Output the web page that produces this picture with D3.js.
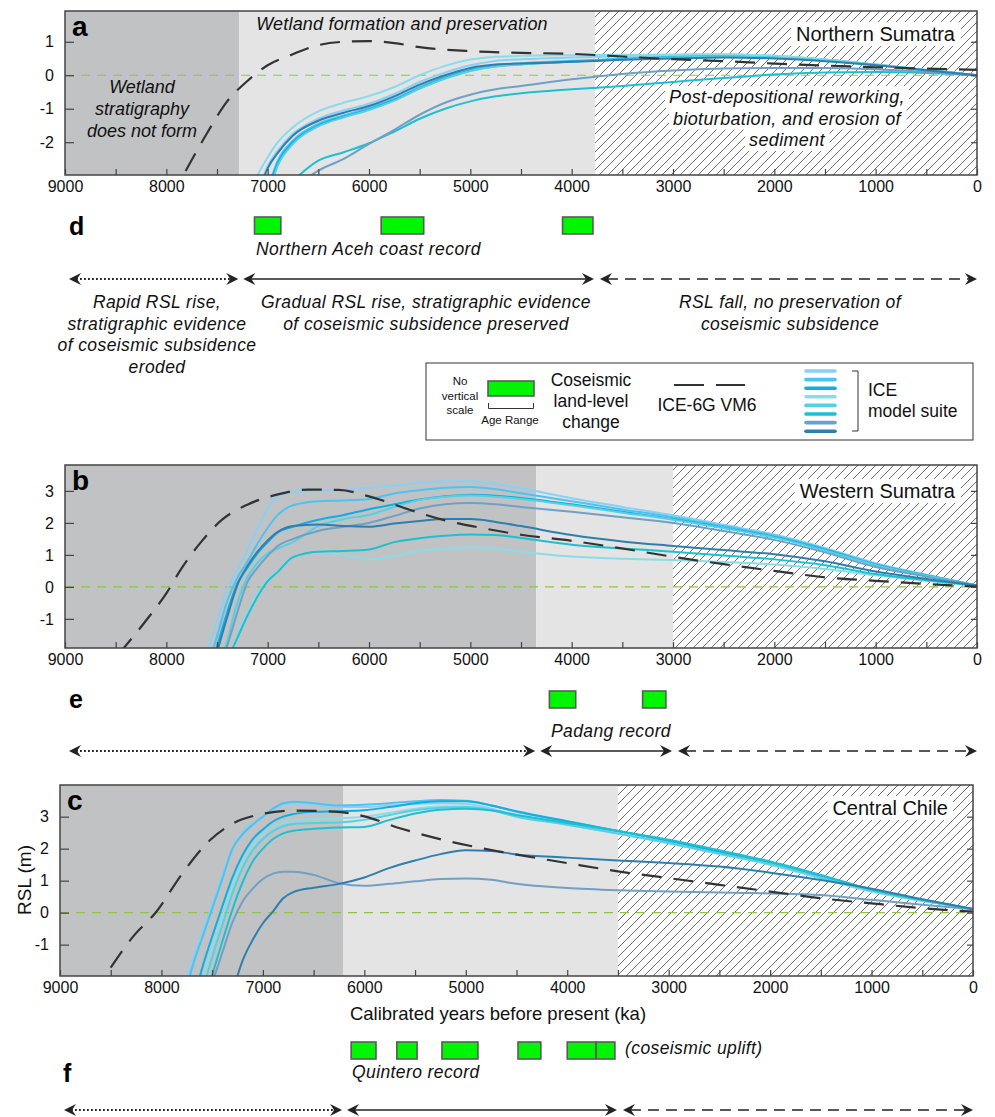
<!DOCTYPE html>
<html><head><meta charset="utf-8">
<script src="https://cdn.jsdelivr.net/npm/d3@7/dist/d3.min.js"></script>
<style>
body{margin:0;background:#fff;}
svg{display:block;font-family:"Liberation Sans",Arial,Helvetica,sans-serif;}
</style></head><body>
<svg id="chart" width="995" height="1117"></svg>
<script>
// ---------------- DATA ----------------
const xTickValues = d3.range(0, 9001, 500);
const xLabelValues = d3.range(0, 9001, 1000);
const yTicksA = [-2, -1, 0, 1];
const yTicksBC = [-1, 0, 1, 2, 3];
const modelNames = ["ICE 1","ICE 2","ICE 3","ICE 4","ICE 5","ICE 6","ICE 7","ICE 8"];
const modelColors = ["#88d0f5","#4cc3f0","#10aee3","#8adce9","#55d0e3","#1cc0d0","#6fa0c5","#2e7fae"];

// zone boundaries (years BP): [end of dark zone, end of light zone]
const zonesA = [7280, 3770];
const zonesB = [4350, 3000];
const zonesC = [6210, 3500];

// Panel a — Northern Sumatra
const yearsA = [7100,7000,6900,6750,6500,6250,6000,5750,5500,5250,5000,4750,4500,4000,3500,3000,2500,2000,1500,1000,500,0];
const a1 = [-3.5,-2.72,-2.25,-1.75,-1.3,-1.05,-0.85,-0.56,-0.2,0.08,0.3,0.43,0.48,0.53,0.57,0.6,0.62,0.58,0.47,0.32,0.16,0];
const a2 = [null,-3.4,-2.55,-1.95,-1.45,-1.2,-0.98,-0.7,-0.35,-0.05,0.18,0.3,0.36,0.43,0.5,0.55,0.58,0.55,0.46,0.32,0.16,0];
const a3 = [null,-3.5,-2.62,-2.0,-1.5,-1.24,-1.02,-0.74,-0.39,-0.09,0.14,0.27,0.33,0.41,0.48,0.54,0.57,0.54,0.45,0.31,0.15,0];
const a4 = [-2.98,-2.45,-2.0,-1.55,-1.08,-0.82,-0.62,-0.35,0.0,0.28,0.47,0.55,0.58,0.6,0.61,0.62,0.63,0.58,0.47,0.32,0.16,0];
const a5 = [null,-3.6,-2.7,-2.05,-1.53,-1.26,-1.04,-0.76,-0.4,-0.1,0.13,0.26,0.32,0.4,0.47,0.53,0.56,0.53,0.44,0.31,0.15,0];
const a6 = [null,null,null,-3.15,-2.55,-2.3,-2.03,-1.68,-1.3,-1.0,-0.78,-0.63,-0.54,-0.42,-0.32,-0.2,-0.08,0.02,0.08,0.1,0.07,0];
const a7 = [null,null,null,-3.4,-2.85,-2.5,-2.05,-1.63,-1.18,-0.82,-0.58,-0.42,-0.32,-0.12,0.04,0.14,0.2,0.22,0.22,0.18,0.1,0];
const a8 = [-3.6,-2.78,-2.32,-1.8,-1.36,-1.12,-0.92,-0.63,-0.28,0.0,0.22,0.32,0.35,0.4,0.46,0.5,0.53,0.5,0.42,0.3,0.15,0];
const iceYearsA = [7810,7600,7400,7200,7000,6800,6500,6250,6000,5750,5500,5000,4500,4000,3500,3000,2500,2000,1500,1000,500,0];
const iceA = [-2.86,-1.74,-0.78,-0.17,0.3,0.57,0.9,1.0,1.02,0.96,0.84,0.72,0.67,0.64,0.56,0.48,0.42,0.35,0.29,0.24,0.2,0.16];

// Panel b — Western Sumatra
const yearsB = [7700,7600,7500,7400,7300,7200,7100,7000,6900,6750,6500,6250,6000,5750,5500,5250,5000,4750,4500,4000,3500,3000,2500,2000,1500,1000,500,0];
const b1 = [-3.2,-2.05,-1.1,-0.07,0.55,1.15,1.85,2.45,2.82,2.97,3.02,3.03,3.1,3.17,3.25,3.3,3.3,3.22,3.08,2.77,2.5,2.24,1.94,1.64,1.22,0.74,0.38,0.04];
const b2 = [-3.6,-2.6,-1.55,-0.45,0.28,0.79,1.35,1.85,2.25,2.55,2.68,2.7,2.75,2.92,3.02,3.1,3.12,3.05,2.93,2.68,2.42,2.18,1.9,1.6,1.19,0.71,0.37,0.04];
const b3 = [null,-3.0,-1.87,-0.8,0.1,0.6,1.05,1.4,1.7,1.88,2.1,2.25,2.43,2.58,2.73,2.83,2.88,2.85,2.78,2.58,2.35,2.12,1.85,1.56,1.16,0.69,0.36,0.04];
const b4 = [null,null,null,-2.4,-1.5,-0.8,-0.2,0.25,0.5,0.95,1.08,1.0,0.86,0.97,1.12,1.2,1.23,1.2,1.1,0.95,0.88,0.84,0.78,0.7,0.56,0.36,0.19,0.04];
const b5 = [null,null,-2.7,-1.7,-0.5,0.3,0.75,1.05,1.2,1.4,1.9,2.12,2.25,2.5,2.72,2.82,2.86,2.82,2.75,2.55,2.32,2.1,1.83,1.54,1.14,0.68,0.35,0.04];
const b6 = [null,null,null,-2.3,-1.6,-0.9,-0.3,0.18,0.47,0.93,1.1,1.12,1.17,1.4,1.52,1.6,1.64,1.62,1.53,1.32,1.2,1.1,0.98,0.86,0.68,0.4,0.21,0.04];
const b7 = [null,null,-2.75,-1.85,-0.8,0.15,0.6,0.97,1.28,1.5,1.75,1.88,2.0,2.22,2.45,2.58,2.62,2.58,2.5,2.35,2.18,2.0,1.75,1.47,1.08,0.62,0.32,0.04];
const b8 = [null,-3.2,-2.05,-0.95,0.05,0.65,1.1,1.45,1.72,1.9,1.95,1.9,1.88,1.98,2.06,2.12,2.12,2.03,1.9,1.62,1.42,1.28,1.15,1.02,0.8,0.48,0.25,0.04];
const iceYearsB = [8470,8200,8000,7850,7650,7450,7200,6900,6600,6300,6000,5600,5250,4950,4500,4000,3500,3000,2500,2000,1500,1000,500,0];
const iceB = [-2.1,-1.05,-0.2,0.58,1.43,2.1,2.57,2.89,3.04,3.03,2.83,2.41,2.08,1.88,1.63,1.44,1.2,0.94,0.71,0.5,0.3,0.19,0.09,0.01];

// Panel c — Central Chile
const yearsC = [7800,7700,7600,7500,7400,7300,7200,7100,7000,6900,6800,6700,6500,6250,6000,5750,5500,5250,5000,4750,4500,4000,3500,3000,2500,2000,1500,1000,500,0];
const c1 = [-2.6,-1.55,-0.65,0.25,1.15,2.0,2.5,2.8,3.02,3.22,3.37,3.42,3.38,3.3,3.3,3.35,3.4,3.42,3.4,3.25,3.05,2.78,2.48,2.18,1.84,1.5,1.08,0.66,0.37,0.11];
const c2 = [-3.0,-1.75,-0.8,0.12,1.05,2.0,2.45,2.75,3.0,3.25,3.42,3.47,3.42,3.35,3.37,3.42,3.48,3.52,3.5,3.35,3.15,2.85,2.55,2.25,1.9,1.55,1.12,0.68,0.38,0.11];
const c3 = [null,-3.0,-1.75,-0.75,0.2,1.1,1.8,2.3,2.6,2.85,3.0,3.08,3.15,3.17,3.2,3.3,3.42,3.48,3.48,3.35,3.17,2.86,2.55,2.25,1.9,1.55,1.12,0.68,0.38,0.11];
const c4 = [null,-3.2,-2.1,-1.05,-0.1,0.85,1.6,2.1,2.45,2.68,2.82,2.88,2.92,2.95,3.0,3.12,3.25,3.32,3.32,3.2,3.02,2.75,2.47,2.17,1.83,1.5,1.08,0.66,0.37,0.11];
const c5 = [null,null,-2.5,-1.4,-0.4,0.6,1.4,1.95,2.3,2.55,2.7,2.77,2.8,2.82,2.9,3.05,3.2,3.28,3.3,3.2,3.0,2.75,2.47,2.18,1.85,1.52,1.1,0.68,0.38,0.11];
const c6 = [null,null,-3.0,-1.95,-0.9,0.1,0.95,1.6,2.0,2.3,2.48,2.56,2.62,2.66,2.68,2.9,3.1,3.22,3.25,3.2,3.05,2.8,2.55,2.28,1.95,1.6,1.18,0.72,0.4,0.11];
const c7 = [null,null,null,-2.2,-1.25,-0.3,0.35,0.75,1.05,1.22,1.28,1.28,1.18,0.92,0.84,0.9,0.98,1.05,1.07,1.03,0.9,0.77,0.7,0.66,0.63,0.6,0.55,0.4,0.25,0.11];
const c8 = [null,null,null,null,null,-2.5,-1.5,-0.85,-0.33,0.04,0.45,0.64,0.78,0.9,1.1,1.4,1.63,1.83,1.95,1.93,1.82,1.72,1.63,1.55,1.44,1.25,1.02,0.75,0.42,0.11];
const iceYearsC = [8500,8280,8050,7800,7520,7300,7030,6700,6300,6000,5650,5150,4650,4000,3500,3000,2500,2000,1500,1000,500,0];
const iceC = [-1.72,-0.75,0.03,1.2,2.27,2.78,3.07,3.19,3.16,3.01,2.64,2.22,1.9,1.55,1.29,1.08,0.87,0.66,0.45,0.29,0.14,0.03];

// Coseismic events (age ranges, years BP)
const eventsD = [[7130,6870],[5880,5460],[4090,3790]];
const eventsE = [[4220,3960],[3300,3070]];
const eventsF = [[6130,5885],[5680,5480],[5235,4880],[4485,4260],[4000,3715],[3715,3530]];

// ---------------- DRAW ----------------
const svg = d3.select("#chart");
const defs = svg.append("defs");
const pat = defs.append("pattern").attr("id","hatch").attr("patternUnits","userSpaceOnUse")
  .attr("width",9).attr("height",9);
pat.append("rect").attr("width",9).attr("height",9).attr("fill","#fff");
pat.append("path").attr("d","M-1,1 L1,-1 M0,9 L9,0 M8,10 L10,8")
  .attr("stroke","#707070").attr("stroke-width",1);

const FONT = '"Liberation Sans",Arial,Helvetica,sans-serif';

function drawPanel(p){
  const x = d3.scaleLinear().domain([9000,0]).range([p.left,p.right]);
  const y = d3.scaleLinear().domain(p.ydom).range([p.bottom,p.top]);
  const g = svg.append("g");
  defs.append("clipPath").attr("id","clip"+p.id).append("rect")
    .attr("x",p.left).attr("y",p.top).attr("width",p.right-p.left).attr("height",p.bottom-p.top);
  const h = p.bottom-p.top;
  g.append("rect").attr("x",x(9000)).attr("y",p.top).attr("width",x(p.zones[0])-x(9000)).attr("height",h).attr("fill","#c1c2c4");
  g.append("rect").attr("x",x(p.zones[0])).attr("y",p.top).attr("width",x(p.zones[1])-x(p.zones[0])).attr("height",h).attr("fill","#e4e4e4");
  g.append("rect").attr("x",x(p.zones[1])).attr("y",p.top).attr("width",x(0)-x(p.zones[1])).attr("height",h).attr("fill","url(#hatch)");
  // zero line
  g.append("line").attr("x1",p.left).attr("x2",p.right).attr("y1",y(0)).attr("y2",y(0))
    .attr("stroke","#8dc63f").attr("stroke-width",1.2).attr("stroke-dasharray","9,7");

  const cg = g.append("g").attr("clip-path",`url(#clip${p.id})`);
  const line = d3.line().defined(d=>d[1]!=null).x(d=>x(d[0])).y(d=>y(d[1])).curve(d3.curveMonotoneX);
  p.models.forEach((m,i)=>{
    const pts = p.years.map((yr,j)=>[yr,m[j]]);
    cg.append("path").attr("d",line(pts)).attr("fill","none")
      .attr("stroke",modelColors[i]).attr("stroke-width",2).attr("stroke-linecap","round")
      .attr("data-name",modelNames[i]);
  });
  const icePts = p.iceYears.map((yr,j)=>[yr,p.ice[j]]);
  cg.append("path").attr("d",line(icePts)).attr("fill","none").attr("stroke","#333")
    .attr("stroke-width",2.2).attr("stroke-dasharray","20,12");

  // axes
  const xa = d3.axisBottom(x).tickValues(xTickValues).tickSize(-6).tickPadding(6)
    .tickFormat(d=> xLabelValues.includes(d) ? String(d) : "");
  const gx = g.append("g").attr("transform",`translate(0,${p.bottom})`).call(xa);
  const ya = d3.axisLeft(y).tickValues(p.yticks).tickSize(-9).tickPadding(11).tickFormat(d=>String(d));
  const gy = g.append("g").attr("transform",`translate(${p.left},0)`).call(ya);
  const yr = d3.axisRight(y).tickValues(p.yticks).tickSize(-6).tickFormat("");
  const gyr = g.append("g").attr("transform",`translate(${p.right},0)`).call(yr);
  [gx,gy,gyr].forEach(a=>{
    a.select(".domain").remove();
    a.selectAll(".tick line").attr("stroke","#444").attr("stroke-width",1.2);
    a.selectAll(".tick text").attr("font-size",16).attr("font-family",FONT).attr("fill","#111");
  });
  g.append("rect").attr("x",p.left).attr("y",p.top).attr("width",p.right-p.left).attr("height",h)
    .attr("fill","none").attr("stroke","#444").attr("stroke-width",1.5);

  // panel letter
  g.append("text").attr("x",p.left+7).attr("y",p.letterY).text(p.id)
    .attr("font-size",28).attr("font-weight","bold").attr("fill","#000");
  // location label
  const lt = g.append("text").attr("x",p.right-p.locInset).attr("y",p.locY).attr("text-anchor","end")
    .attr("font-size",20).attr("fill","#111").text(p.location);
  const bb = lt.node().getBBox();
  g.insert("rect",()=>lt.node()).attr("x",bb.x-5).attr("y",bb.y-1).attr("width",bb.width+10).attr("height",bb.height+2).attr("fill","#fff");
  return x;
}

const xA = drawPanel({id:"a",left:65,right:977,top:11,bottom:175,ydom:[-2.98,1.92],yticks:yTicksA,
  years:yearsA,models:[a1,a2,a3,a4,a5,a6,a7,a8],iceYears:iceYearsA,ice:iceA,zones:zonesA,
  letterY:36,location:"Northern Sumatra",locY:41,locInset:22});
const xB = drawPanel({id:"b",left:65,right:977,top:465,bottom:648,ydom:[-1.91,3.81],yticks:yTicksBC,
  years:yearsB,models:[b1,b2,b3,b4,b5,b6,b7,b8],iceYears:iceYearsB,ice:iceB,zones:zonesB,
  letterY:490,location:"Western Sumatra",locY:498,locInset:22});
const xC = drawPanel({id:"c",left:60,right:973,top:785,bottom:976,ydom:[-1.98,3.99],yticks:yTicksBC,
  years:yearsC,models:[c1,c2,c3,c4,c5,c6,c7,c8],iceYears:iceYearsC,ice:iceC,zones:zonesC,
  letterY:810,location:"Central Chile",locY:815,locInset:25});

// text helper
function multiText(lines, cx, y0, dy, size, italic, anchor, withBox, ls){
  const out = [];
  lines.forEach((s,i)=>{
    const t = svg.append("text").attr("x",cx).attr("y",y0+i*dy).attr("text-anchor",anchor||"middle")
      .attr("font-size",size).attr("font-style",italic?"italic":"normal").attr("fill","#111")
      .attr("letter-spacing",ls||0).text(s);
    out.push(t);
  });
  if(withBox){
    out.forEach(t=>{
      const bb=t.node().getBBox();
      svg.insert("rect",()=>t.node()).attr("x",bb.x-4).attr("y",bb.y-1).attr("width",bb.width+8).attr("height",bb.height+2).attr("fill","#fff");
    });
  }
  return out;
}
multiText(["Wetland formation and preservation"],402,30,0,18,true,"middle",false,0.2);
multiText(["Wetland","stratigraphy","does not form"],142,93,22,18,true);
multiText(["Post-depositional reworking,","bioturbation, and erosion of","sediment"],787,103,21.5,18,true,"middle",true,0.35);

// coseismic boxes
function boxes(evts, x, y0, hgt){
  evts.forEach(e=>{
    svg.append("rect").attr("x",x(e[0])).attr("y",y0).attr("width",x(e[1])-x(e[0])).attr("height",hgt)
      .attr("fill","#00f500").attr("stroke","#5a5a5a").attr("stroke-width",1.6);
  });
}
boxes(eventsD,xA,217,17);
boxes(eventsE,xB,691,17);
boxes(eventsF,xC,1042,17);

// arrows
function head(xp, yy, dir){
  const s = dir;
  svg.append("path").attr("d",`M${xp},${yy} L${xp-s*12},${yy-6} L${xp-s*8},${yy} L${xp-s*12},${yy+6} Z`).attr("fill","#222");
}
function arrow(x1,x2,yy,style){
  const l = svg.append("line").attr("x1",x1+7).attr("x2",x2-7).attr("y1",yy).attr("y2",yy)
    .attr("stroke","#222").attr("stroke-width",style==="dot"?1.8:1.6);
  if(style==="dot") l.attr("stroke-dasharray","1.8,2.2");
  if(style==="dash") l.attr("stroke-dasharray","11,7");
  head(x1,yy,-1); head(x2,yy,1);
}
function arrowRow(x, zones, yy){
  arrow(x(9000)+4, x(zones[0])-1, yy, "dot");
  arrow(x(zones[0])+4, x(zones[1])-1, yy, "solid");
  arrow(x(zones[1])+5, x(0), yy, "dash");
}
arrowRow(xA, zonesA, 279);
arrowRow(xB, zonesB, 751);
arrowRow(xC, zonesC, 1110);

// letters d e f
[["d",69,235],["e",69,708],["f",63,1082]].forEach(([t,xx,yy])=>{
  svg.append("text").attr("x",xx).attr("y",yy).text(t).attr("font-size",25).attr("font-weight","bold").attr("fill","#000");
});

// record labels
multiText(["Northern Aceh coast record"],256,255,0,17.5,true,"start",false,0.45);
multiText(["Padang record"],551,737,0,17.5,true,"start",false,0.4);
multiText(["Quintero record"],352,1078,0,17.5,true,"start",false,0.4);
multiText(["(coseismic uplift)"],625,1054,0,17.5,true,"start",false,0.4);

multiText(["Rapid RSL rise,","stratigraphic evidence","of coseismic subsidence","eroded"],157,308,21.5,17.5,true,"middle",false,0.4);
multiText(["Gradual RSL rise, stratigraphic evidence","of coseismic subsidence preserved"],426,308,21.5,17.5,true,"middle",false,0.4);
multiText(["RSL fall, no preservation of","coseismic subsidence"],790,308,21.5,17.5,true,"middle",false,0.4);

// axis titles
svg.append("text").attr("x",498).attr("y",1020).attr("text-anchor","middle").attr("font-size",18.5).attr("fill","#111")
  .text("Calibrated years before present (ka)");
svg.append("text").attr("transform","translate(31,880) rotate(-90)").attr("text-anchor","middle").attr("font-size",19).attr("fill","#111")
  .text("RSL (m)");

// legend
const lg = svg.append("g");
lg.append("rect").attr("x",426).attr("y",363).attr("width",547).attr("height",77).attr("fill","#fff").attr("stroke","#333").attr("stroke-width",1);
["No","vertical","scale"].forEach((s,i)=>lg.append("text").attr("x",460).attr("y",385+i*14.5).attr("text-anchor","middle").attr("font-size",11.5).attr("fill","#111").text(s));
lg.append("rect").attr("x",488).attr("y",381).attr("width",46).attr("height",15).attr("fill","#00f500").attr("stroke","#5a5a5a").attr("stroke-width",1.6);
lg.append("path").attr("d","M488.5,403 V408.5 H533.5 V403").attr("fill","none").attr("stroke","#333").attr("stroke-width",1);
lg.append("text").attr("x",510).attr("y",424).attr("text-anchor","middle").attr("font-size",11.5).attr("fill","#111").text("Age Range");
["Coseismic","land-level","change"].forEach((s,i)=>lg.append("text").attr("x",591).attr("y",386+i*21).attr("text-anchor","middle").attr("font-size",17.5).attr("fill","#111").text(s));
[[674,704],[716,745]].forEach(([a,b])=>lg.append("line").attr("x1",a).attr("x2",b).attr("y1",385).attr("y2",385).attr("stroke","#333").attr("stroke-width",2));
lg.append("text").attr("x",707).attr("y",411).attr("text-anchor","middle").attr("font-size",17.5).attr("fill","#111").text("ICE-6G VM6");
modelColors.forEach((c,i)=>lg.append("line").attr("x1",806).attr("x2",835).attr("y1",371+i*8.6).attr("y2",371+i*8.6)
  .attr("stroke",c).attr("stroke-width",3.6).attr("stroke-linecap","round"));
lg.append("path").attr("d","M852,371 H858 V431 H852").attr("fill","none").attr("stroke","#333").attr("stroke-width",1);
lg.append("text").attr("x",868).attr("y",396).attr("font-size",17.5).attr("fill","#111").text("ICE");
lg.append("text").attr("x",868).attr("y",417).attr("font-size",17.5).attr("fill","#111").text("model suite");
</script>
</body></html>
